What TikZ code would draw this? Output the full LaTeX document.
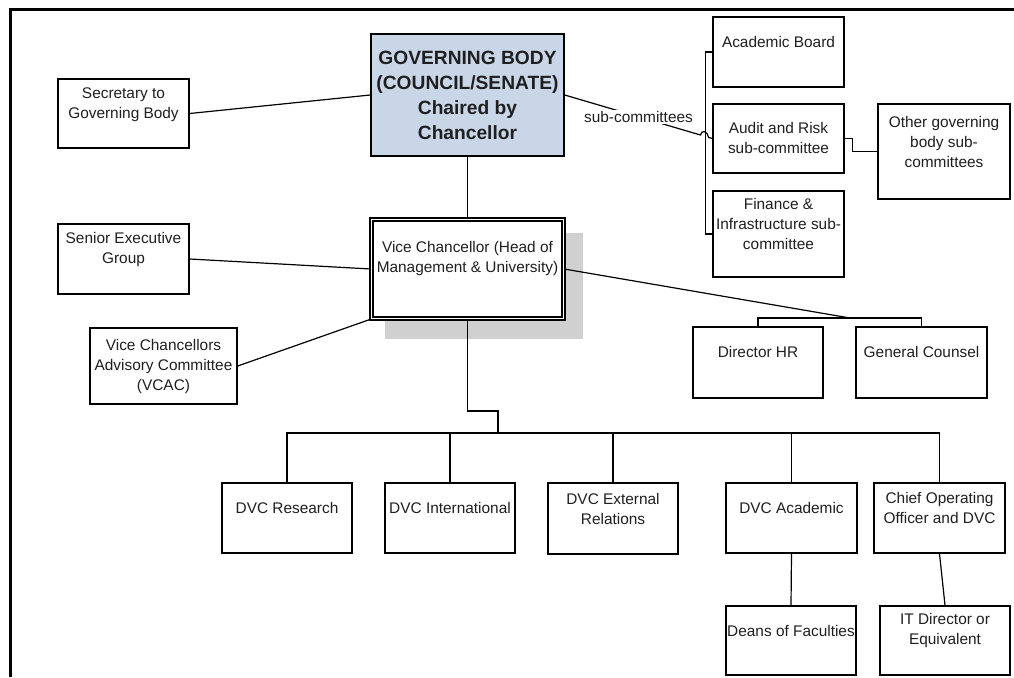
\documentclass[tikz,border=0pt]{standalone}
\usepackage{fontspec}
\setmainfont{Liberation Sans}
\usetikzlibrary{calc}
\definecolor{gbblue}{RGB}{201,214,232}
\definecolor{shadowgrey}{RGB}{208,208,208}
\pgfdeclarelayer{shade}
\pgfdeclarelayer{wires}
\pgfsetlayers{shade,wires,main}

% box with its text block placed at a given height
% #1 name, #2 centre x, #3 centre y, #4 width, #5 height, #6 text centre y, #7 text
\newcommand{\orgunit}[7]{%
  \node[box, minimum width=#4pt, minimum height=#5pt] (#1) at (#2,#3) {};
  \node[txt] (#1-t) at (#2,#6) {#7};%
}

\begin{document}
\begin{tikzpicture}[x=1pt,y=-1pt,
  box/.style={draw=black, line width=1.4pt, fill=white, inner sep=0pt},
  txt/.style={align=center, inner sep=0pt, text=black!88,
              font=\fontsize{15.4}{20}\selectfont},
  link/.style={draw=black, line width=1.2pt},
]
\useasboundingbox (0,0) rectangle (1014,677);

% page frame
\draw[line width=3pt] (10,677) -- (10,10) -- (1014,10);

% governing body
\node[box, fill=gbblue, minimum width=193pt, minimum height=122pt] (gb) at (467.5,95) {};
\node[txt, font=\fontsize{19.2}{25}\selectfont\bfseries] (gb-t) at (467.5,95)
  {GOVERNING BODY\\(COUNCIL/SENATE)\\Chaired by\\Chancellor};

% left-hand units
\orgunit{sec}{123.5}{113.5}{131}{69}{104.5}{Secretary to\\Governing Body}
\orgunit{seg}{123.5}{259}{131}{70}{250}{Senior Executive\\Group}
\orgunit{vcac}{163.5}{366}{147}{76}{367}{Vice Chancellors\\Advisory Committee\\(VCAC)}

% sub-committees
\orgunit{acb}{778.5}{52}{131}{70}{42}{Academic Board}
\orgunit{audit}{778.5}{138.5}{131}{69}{137.5}{Audit and Risk\\sub-committee}
\orgunit{fin}{778.5}{234}{131}{86}{224}{Finance \&\\Infrastructure sub-\\committee}
\orgunit{other}{944}{151.5}{132}{95}{142}{Other governing\\body sub-\\committees}

% vice chancellor with drop shadow
\begin{pgfonlayer}{shade}
  \fill[shadowgrey] (385,233) rectangle (583,339);
\end{pgfonlayer}
\node[draw=black, line width=1.3pt, double=white, double distance=1.8pt, fill=white,
      inner sep=0pt, minimum width=192pt, minimum height=99pt] (vc) at (467.5,269) {};
\node[txt] (vc-t) at (467.5,259) {Vice Chancellor (Head of\\Management \& University)};

% direct reports to the vice chancellor
\orgunit{dhr}{758}{362.5}{130}{71}{352}{Director HR}
\orgunit{gc}{921.5}{362.5}{131}{71}{352}{General Counsel}

% deputy vice chancellors
\orgunit{res}{287}{518}{130}{70}{508}{DVC Research}
\orgunit{intl}{450}{518}{130}{70}{508}{DVC International}
\orgunit{ext}{613}{518.5}{130}{71}{508.5}{DVC External\\Relations}
\orgunit{dacad}{791.5}{518}{131}{70}{508}{DVC Academic}
\orgunit{coo}{939.5}{518}{131}{70}{508}{Chief Operating\\Officer and DVC}

% lower level
\orgunit{deans}{791}{640.5}{130}{69}{631}{Deans of Faculties}
\orgunit{itd}{945}{640.5}{130}{69}{631}{IT Director or\\Equivalent}

% connectors
\coordinate (hrbar) at (850,318);
\coordinate (bus) at (498,433);
\begin{pgfonlayer}{wires}
  \draw[link] (sec.east) -- (gb.west);
  \draw[link] (gb.south) -- (vc.north);
  \draw[link] (seg.east) -- (vc.west);
  \draw[link] (vcac.east) -- (vc.south west);

  % governing body to the sub-committees, hopping over the bracket
  \draw[link] (gb.east) -- ($(gb.east)!0.92!(audit.west)$)
    .. controls +(1,-6) and +(-1,-6) .. ($(gb.east)!0.975!(audit.west)$)
    -- (audit.west);
  \draw[link] (acb.west) -- ++(-7,0) |- (fin.west);
  \draw[link] (audit.east) -- ++(8,0) |- (other.west);

  % vice chancellor to HR and counsel
  \draw[link] (vc.east) -- (hrbar);
  \draw[link] (dhr.north) -- (dhr.north |- hrbar) -- (gc.north |- hrbar) -- (gc.north);

  % vice chancellor to the deputies
  \draw[link] (vc.south) |- ($(bus)+(0,-22)$) -- (bus);
  \draw[link] (res.north) -- (res.north |- bus) -- (coo.north |- bus) -- (coo.north);
  \foreach \n in {intl,ext,dacad}
    \draw[link] (\n.north |- bus) -- (\n.north);
  \draw[link] (dacad.south) -- (deans.north);
  \draw[link] (coo.south) -- (itd.north);
\end{pgfonlayer}
\node[txt, fill=white, inner sep=1.5pt] (subc) at ($(gb.east)!0.5!(audit.west)$) {sub-committees};

\end{tikzpicture}
\end{document}
